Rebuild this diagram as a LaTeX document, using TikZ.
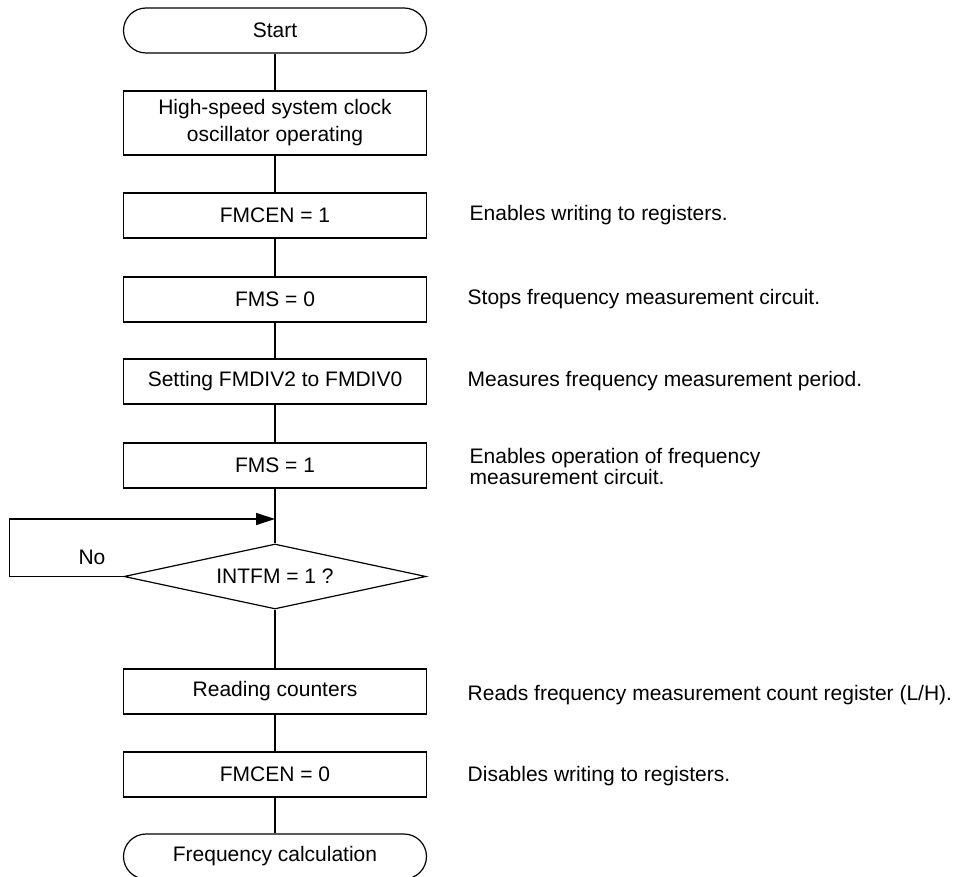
\documentclass[tikz,border=0pt]{standalone}
\usepackage{fontspec}
\setmainfont{Liberation Sans}
\usetikzlibrary{positioning,shapes.geometric,arrows.meta}

\tikzset{
  stepbox/.style={draw, minimum width=303pt, minimum height=45pt, inner sep=0pt, align=center},
  termbox/.style={stepbox, rounded corners=22.5pt},
  askbox/.style={draw, diamond, aspect=4.6, minimum width=302pt, minimum height=65pt, inner sep=0pt},
  note/.style={anchor=west, inner sep=0pt, align=left, font=\fontsize{21pt}{21pt}\selectfont}
}

\begin{document}
\begin{tikzpicture}[x=1pt, y=-1pt, line width=1.2pt, >={Triangle[length=19pt,width=12pt]},
    font=\fontsize{21pt}{27pt}\selectfont]
        \useasboundingbox (0,0) rectangle (962,877);
        % Ablauf
        \node[termbox] (start) at (275,30.5) {Start};
        \node[stepbox, minimum height=64pt] (osc) at (275,123) {High-speed system clock\\oscillator operating};
        \node[stepbox] (fmcena) at (275,215.5) {FMCEN = 1};
        \node[stepbox] (fmsa) at (275,299.5) {FMS = 0};
        \node[stepbox] (div) at (275,381.5) {Setting FMDIV2 to FMDIV0};
        \node[stepbox] (fmsb) at (275,465.5) {FMS = 1};
        \coordinate (loop) at (275,519);
        \node[askbox] (chk) at (275,576.5) {INTFM = 1 ?};
        \node[stepbox] (rd) at (275,691.5) {Reading counters};
        \node[stepbox] (fmcenb) at (275,774.5) {FMCEN = 0};
        \node[termbox] (stop) at (275,856.5) {Frequency calculation};
        % Kommentare
        \node[note, right=42pt of fmcena] (cfmcena) {Enables writing to registers.};
        \node[note, right=40pt of fmsa] (cfmsa) {Stops frequency measurement circuit.};
        \node[note, right=40pt of div] (cdiv) {Measures frequency measurement period.};
        \node[note, right=42pt of fmsb, yshift=-1pt] (cfmsb) {Enables operation of frequency\\measurement circuit.};
        \node[note, right=40pt of rd, yshift=-4pt] (crd) {Reads frequency measurement count register (L/H).};
        \node[note, right=40pt of fmcenb, yshift=-2pt] (cfmcenb) {Disables writing to registers.};
        % Verbindungen
        \draw (start) -- (osc);
        \draw (osc) -- (fmcena);
        \draw (fmcena) -- (fmsa);
        \draw (fmsa) -- (div);
        \draw (div) -- (fmsb);
        \draw (fmsb) -- (chk);
        \draw (chk) -- (rd);
        \draw (rd) -- (fmcenb);
        \draw (fmcenb) -- (stop);
        \draw[->] (chk.west) -- ++(-114,0) |- (loop);
        \node (no) at (92,557) {No};
    \end{tikzpicture}
\end{document}
